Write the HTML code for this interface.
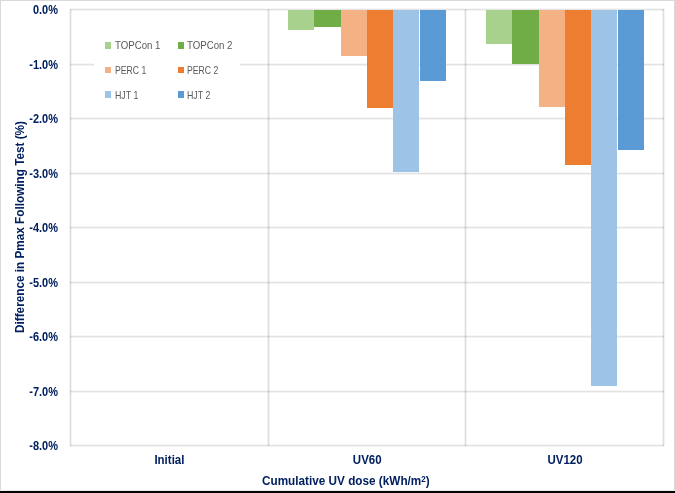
<!DOCTYPE html>
<html><head><meta charset="utf-8"><style>
html,body{margin:0;padding:0;}
body{width:675px;height:493px;position:relative;overflow:hidden;background:#fff;font-family:"Liberation Sans",sans-serif;}
.a{position:absolute;}
.g{position:absolute;background:#e3e3e3;box-shadow:0 1px 0 #f3f3f3,0 -1px 0 #f6f6f6;mix-blend-mode:multiply;}
.v{position:absolute;background:#dedede;box-shadow:1px 0 0 #f3f3f3,-1px 0 0 #f3f3f3;mix-blend-mode:multiply;}
.yl{position:absolute;right:617px;font-weight:bold;font-size:11px;transform:scale(1,1.12);transform-origin:100% 50%;color:#002060;line-height:12px;white-space:nowrap;text-align:right;}
.xl{position:absolute;font-weight:bold;font-size:11.5px;transform:scaleY(1.08);color:#002060;line-height:12px;white-space:nowrap;text-align:center;width:120px;}
.lg{position:absolute;font-size:11.5px;color:#595959;line-height:12px;white-space:nowrap;transform-origin:0 50%;}
.mk{position:absolute;width:6.5px;height:6.5px;}
</style></head><body>

<div class="a" style="left:0;top:0;width:675px;height:1px;background:#d9d9d9"></div>
<div class="a" style="left:0;top:0;width:1px;height:490px;background:#d9d9d9"></div>
<div class="a" style="left:674px;top:0;width:1px;height:490px;background:#d9d9d9"></div>
<div class="a" style="left:0;top:490px;width:675px;height:1px;background:#ececec"></div>
<div class="a" style="left:0;top:491px;width:675px;height:2px;background:#000"></div>
<div class="g" style="left:70px;top:9px;width:594px;height:1px"></div>
<div class="g" style="left:70px;top:64px;width:594px;height:1px"></div>
<div class="g" style="left:70px;top:118px;width:594px;height:1px"></div>
<div class="g" style="left:70px;top:173px;width:594px;height:1px"></div>
<div class="g" style="left:70px;top:227px;width:594px;height:1px"></div>
<div class="g" style="left:70px;top:282px;width:594px;height:1px"></div>
<div class="g" style="left:70px;top:336px;width:594px;height:1px"></div>
<div class="g" style="left:70px;top:391px;width:594px;height:1px"></div>
<div class="g" style="left:70px;top:445px;width:594px;height:1px"></div>
<div class="v" style="left:70px;top:9px;width:1px;height:437px"></div>
<div class="v" style="left:268px;top:9px;width:1px;height:437px"></div>
<div class="v" style="left:465px;top:9px;width:1px;height:437px"></div>
<div class="v" style="left:663px;top:9px;width:1px;height:437px"></div>
<div class="a" style="left:288.00px;top:10.00px;width:26.30px;height:20.00px;background:#a9d18e"></div>
<div class="a" style="left:314.30px;top:10.00px;width:26.30px;height:17.10px;background:#70ad47"></div>
<div class="a" style="left:340.60px;top:10.00px;width:26.30px;height:45.50px;background:#f4b183"></div>
<div class="a" style="left:366.90px;top:10.00px;width:26.30px;height:98.40px;background:#ed7d31"></div>
<div class="a" style="left:393.20px;top:10.00px;width:26.30px;height:162.10px;background:#9dc3e6"></div>
<div class="a" style="left:419.50px;top:10.00px;width:26.30px;height:71.10px;background:#5b9bd5"></div>
<div class="a" style="left:486.00px;top:10.00px;width:26.30px;height:33.60px;background:#a9d18e"></div>
<div class="a" style="left:512.30px;top:10.00px;width:26.30px;height:53.50px;background:#70ad47"></div>
<div class="a" style="left:538.60px;top:10.00px;width:26.30px;height:96.60px;background:#f4b183"></div>
<div class="a" style="left:564.90px;top:10.00px;width:26.30px;height:155.00px;background:#ed7d31"></div>
<div class="a" style="left:591.20px;top:10.00px;width:26.30px;height:376.10px;background:#9dc3e6"></div>
<div class="a" style="left:617.50px;top:10.00px;width:26.30px;height:139.60px;background:#5b9bd5"></div>
<div class="a" style="left:94px;top:32px;width:146px;height:75px;background:#fff"></div>
<div class="mk" style="left:104.70px;top:42.15px;background:#a9d18e"></div>
<div class="lg" style="left:115.00px;top:39.40px;transform:scaleX(0.840)">TOPCon 1</div>
<div class="mk" style="left:177.70px;top:42.15px;background:#70ad47"></div>
<div class="lg" style="left:187.20px;top:39.40px;transform:scaleX(0.840)">TOPCon 2</div>
<div class="mk" style="left:104.70px;top:66.55px;background:#f4b183"></div>
<div class="lg" style="left:115.00px;top:63.80px;transform:scaleX(0.755)">PERC 1</div>
<div class="mk" style="left:177.70px;top:66.55px;background:#ed7d31"></div>
<div class="lg" style="left:187.20px;top:63.80px;transform:scaleX(0.755)">PERC 2</div>
<div class="mk" style="left:104.70px;top:91.25px;background:#9dc3e6"></div>
<div class="lg" style="left:115.00px;top:88.50px;transform:scaleX(0.765)">HJT 1</div>
<div class="mk" style="left:177.70px;top:91.25px;background:#5b9bd5"></div>
<div class="lg" style="left:187.20px;top:88.50px;transform:scaleX(0.765)">HJT 2</div>
<div class="yl" style="top:4.40px">0.0%</div>
<div class="yl" style="top:58.85px">-1.0%</div>
<div class="yl" style="top:113.30px">-2.0%</div>
<div class="yl" style="top:167.75px">-3.0%</div>
<div class="yl" style="top:222.20px">-4.0%</div>
<div class="yl" style="top:276.65px">-5.0%</div>
<div class="yl" style="top:331.10px">-6.0%</div>
<div class="yl" style="top:385.55px">-7.0%</div>
<div class="yl" style="top:440.00px">-8.0%</div>
<div class="xl" style="left:109.42px;top:454px">Initial</div>
<div class="xl" style="left:307.25px;top:454px">UV60</div>
<div class="xl" style="left:505.08px;top:454px">UV120</div>
<div class="a" style="left:19px;top:227px;width:0;height:0"><div style="position:absolute;left:0;top:0;transform:translate(-50%,-50%) rotate(-90deg) scaleY(1.1);font-weight:bold;font-size:11.75px;color:#002060;white-space:nowrap;line-height:13px">Difference in Pmax Following Test (%)</div></div>
<div class="a" style="left:262px;top:474px;font-weight:bold;font-size:11.75px;color:#002060;white-space:nowrap;line-height:13px;transform:scaleY(1.06);transform-origin:0 11px">Cumulative UV dose (kWh/m<span style="font-size:8px;position:relative;top:-3.5px">2</span>)</div>
</body></html>
